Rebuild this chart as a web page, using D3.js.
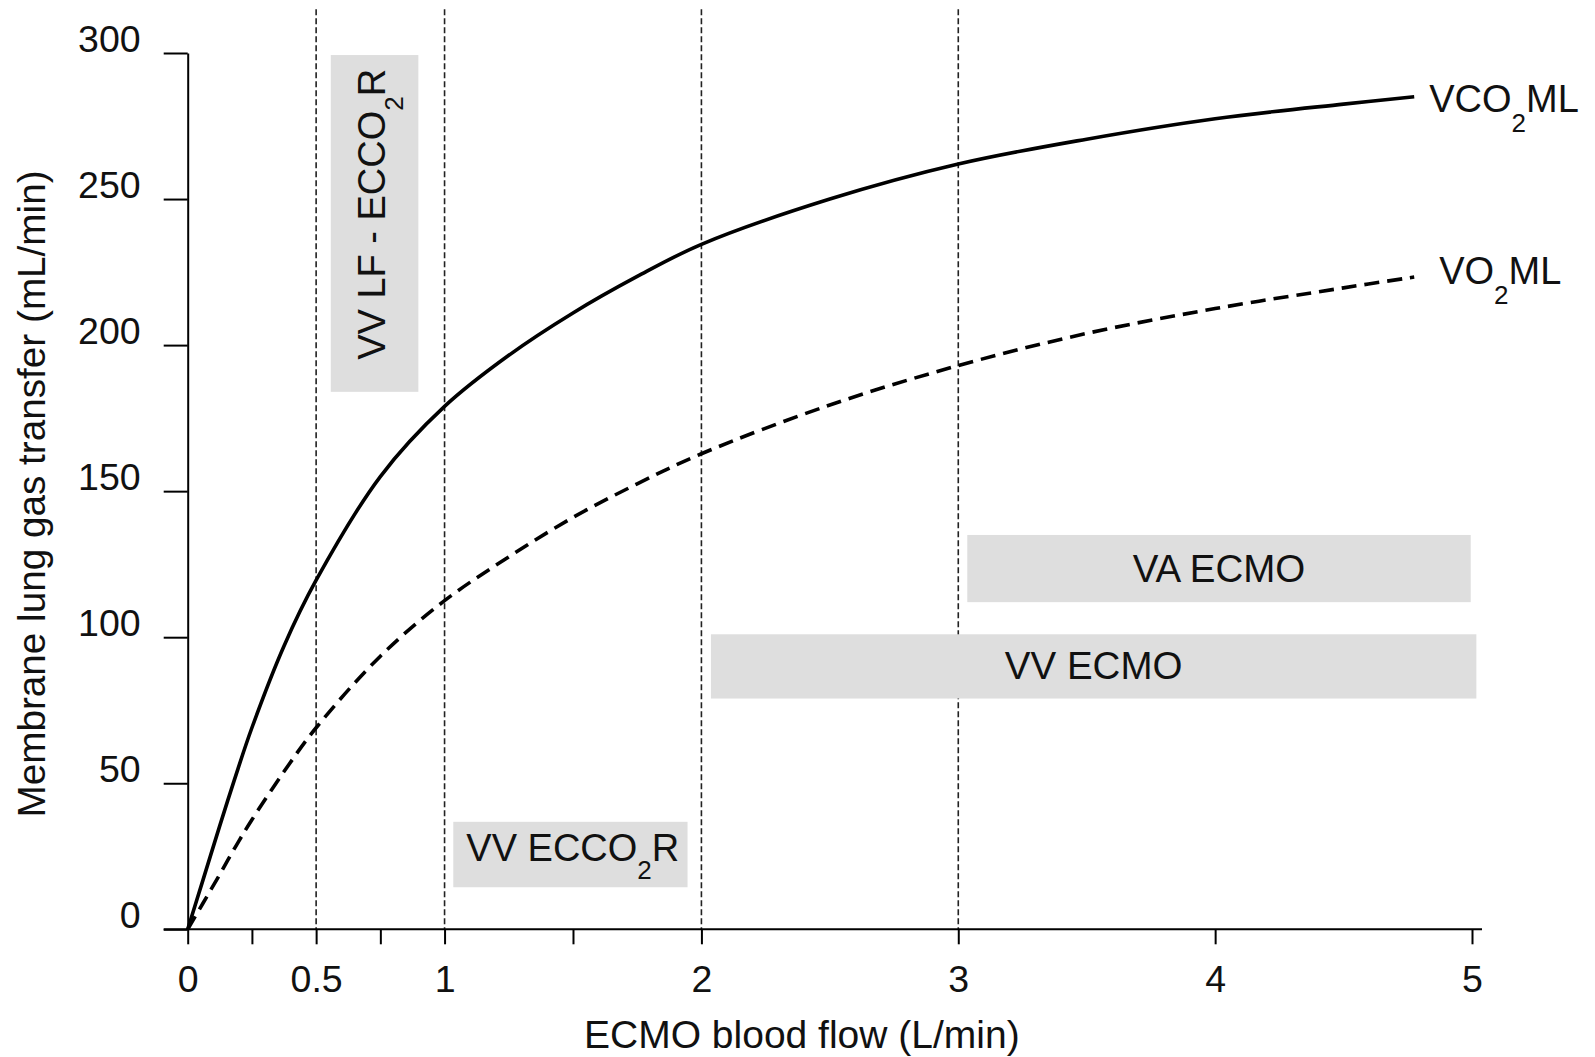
<!DOCTYPE html>
<html>
<head>
<meta charset="utf-8">
<script src="https://cdn.jsdelivr.net/npm/d3@7"></script>
<style>
  body { margin: 0; background: #fff; }
  svg { display: block; }
  text { font-family: "Liberation Sans", Arial, Helvetica, sans-serif; fill: #111; }
</style>
</head>
<body>
<svg id="chart" width="1595" height="1057"></svg>
<script>
// ECMO blood flow (L/min) sample points
var flow = [0, 0.06, 0.125, 0.183, 0.25, 0.375, 0.5, 0.75, 1, 1.25, 1.5, 1.75, 2, 2.5, 3, 3.5, 4, 4.5, 4.775];
// membrane lung CO2 transfer (solid)
var vco2 = [0, 17, 35.5, 51.5, 69, 97, 119.5, 155, 179, 196.5, 211, 223.5, 234.5, 250, 262, 270.5, 277.5, 282.5, 285];
// membrane lung O2 transfer (dashed)
var vo2 = [0, 9, 18.8, 27.8, 37.5, 54, 69, 93.5, 112.5, 127.5, 141, 152.5, 162.8, 179.5, 193, 204, 212.5, 219.6, 223.3];

var xTicks = [0, 0.25, 0.5, 0.75, 1, 1.5, 2, 3, 4, 5];
var xLabels = [0, 0.5, 1, 2, 3, 4, 5];
var yTicks = [0, 50, 100, 150, 200, 250, 300];
var guides = [0.5, 1, 2, 3];
var guideTop = 315;

// shaded support ranges: [flow from, flow to], [transfer from, transfer to]
var zoneNames = ["VV LF - ECCO2R", "VV ECCO2R", "VA ECMO", "VV ECMO"];
var zoneFlow = [[0.557, 0.898], [1.034, 1.946], [3.035, 4.995], [2.037, 5.017]];
var zoneGas = [[184, 299.3], [14.4, 36.8], [112, 135], [79, 101]];

var svg = d3.select("#chart");
var x = d3.scaleLinear().domain([0, 5]).range([187.7, 1472]);
var y = d3.scaleLinear().domain([0, 300]).range([929.3, 53]);

// vertical dashed guides
svg.append("g").selectAll("line")
    .data(guides)
    .enter().append("line")
    .attr("x1", function (d) { return x(d); })
    .attr("x2", function (d) { return x(d); })
    .attr("y1", y(guideTop))
    .attr("y2", y(0))
    .attr("stroke", "#222")
    .attr("stroke-width", 1.6)
    .attr("stroke-dasharray", "6,3");

// grey boxes
var zones = zoneNames.map(function (n, i) {
    return { name: n, x0: zoneFlow[i][0], x1: zoneFlow[i][1], y0: zoneGas[i][0], y1: zoneGas[i][1] };
});
svg.append("g").selectAll("rect")
    .data(zones)
    .enter().append("rect")
    .attr("x", function (d) { return x(d.x0); })
    .attr("width", function (d) { return x(d.x1) - x(d.x0); })
    .attr("y", function (d) { return y(d.y1); })
    .attr("height", function (d) { return y(d.y0) - y(d.y1); })
    .attr("fill", "#dedede");

function sub(t, before, after, dy) {
    t.append("tspan").text(before);
    t.append("tspan").attr("font-size", 26).attr("dy", dy).text("2");
    t.append("tspan").attr("dy", -dy).text(after);
}

// rotated low-flow label
var z0 = zones[0];
var t0 = svg.append("text")
    .attr("transform", "translate(" + (x(z0.x1) - 33) + "," + (y(z0.y0) - 32) + ") rotate(-90)")
    .attr("font-size", 38);
sub(t0, "VV LF - ECCO", "R", 18);

var z1 = zones[1];
var t1 = svg.append("text")
    .attr("x", x(z1.x0) + 13)
    .attr("y", y(z1.y0) - 26)
    .attr("font-size", 38);
sub(t1, "VV ECCO", "R", 18);

zones.slice(2).forEach(function (z) {
    svg.append("text")
        .attr("x", (x(z.x0) + x(z.x1)) / 2)
        .attr("y", (y(z.y0) + y(z.y1)) / 2 + 13)
        .attr("text-anchor", "middle")
        .attr("font-size", 38.5)
        .text(z.name);
});

// axes
var yAxis = svg.append("g")
    .attr("transform", "translate(" + x(0) + ",0)")
    .call(d3.axisLeft(y).tickValues(yTicks).tickSize(24).tickSizeOuter(0).tickPadding(23));
yAxis.selectAll("text")
    .attr("dy", "-0.04em")
    .attr("font-size", 37.5)
    .style("font-family", "'Liberation Sans', Arial, sans-serif")
    .attr("fill", "#111");

var xAxis = svg.append("g")
    .attr("transform", "translate(0," + y(0) + ")")
    .call(d3.axisBottom(x).tickValues(xTicks).tickSize(15)
        .tickFormat(function (d) { return xLabels.indexOf(d) >= 0 ? d : ""; }));
xAxis.select(".domain").remove();
xAxis.selectAll("text")
    .attr("y", 62.5)
    .attr("dy", 0)
    .attr("font-size", 37.5)
    .style("font-family", "'Liberation Sans', Arial, sans-serif")
    .attr("fill", "#111");
xAxis.append("line")
    .attr("x1", x(0) - 24)
    .attr("x2", x(5) + 10)
    .attr("stroke", "#000");

svg.selectAll(".domain, .tick line").attr("stroke", "#000").attr("stroke-width", 2);
xAxis.selectAll("line").attr("stroke-width", 2);

// axis titles
svg.append("text")
    .attr("x", (x(0) + x(5)) / 2 - 28)
    .attr("y", 1048)
    .attr("text-anchor", "middle")
    .attr("font-size", 39)
    .text("ECMO blood flow (L/min)");
svg.append("text")
    .attr("transform", "translate(45," + 494 + ") rotate(-90)")
    .attr("text-anchor", "middle")
    .attr("font-size", 38.7)
    .text("Membrane lung gas transfer (mL/min)");

// curves
var line = d3.line().curve(d3.curveCatmullRom.alpha(0.5));
var co2Pts = flow.map(function (f, i) { return [x(f), y(vco2[i])]; });
var o2Pts = flow.map(function (f, i) { return [x(f), y(vo2[i])]; });

svg.append("path")
    .attr("d", line(co2Pts))
    .attr("fill", "none")
    .attr("stroke", "#000")
    .attr("stroke-width", 3.6);
svg.append("path")
    .attr("d", line(o2Pts))
    .attr("fill", "none")
    .attr("stroke", "#000")
    .attr("stroke-width", 3.6)
    .attr("stroke-dasharray", "15,8");

// curve end labels
var last = flow.length - 1;
var l1 = svg.append("text")
    .attr("x", x(flow[last]) + 15)
    .attr("y", y(vco2[last]) + 15)
    .attr("font-size", 38);
sub(l1, "VCO", "ML", 20);
var l2 = svg.append("text")
    .attr("x", x(flow[last]) + 25)
    .attr("y", y(vo2[last]) + 7)
    .attr("font-size", 38);
sub(l2, "VO", "ML", 20);
</script>
</body>
</html>
